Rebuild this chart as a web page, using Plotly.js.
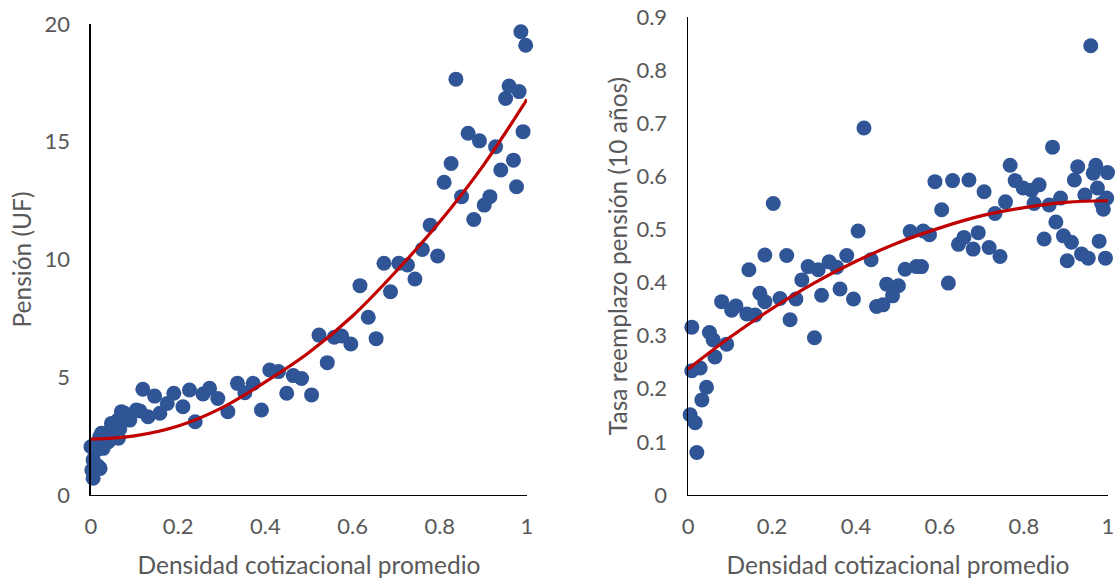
<!DOCTYPE html>
<html>
<head>
<meta charset="utf-8">
<script src="https://cdn.plot.ly/plotly-3.0.1.min.js"></script>
<style>html,body{margin:0;padding:0;background:#fff;}#chart{width:1116px;height:579px;}</style>
</head>
<body>
<div id="chart"></div>
<script>
// Left chart: Pensión (UF) vs densidad cotizacional
const densLeft = [0.000,0.002,0.005,0.005,0.013,0.016,0.021,0.024,0.028,0.020,0.040,0.047,0.051,0.057,0.062,0.063,0.070,0.077,0.080,0.089,0.104,0.112,0.119,0.131,0.146,0.158,0.175,0.190,0.211,0.226,0.239,0.257,0.272,0.291,0.314,0.336,0.353,0.372,0.391,0.410,0.430,0.449,0.464,0.483,0.506,0.523,0.542,0.558,0.575,0.596,0.617,0.636,0.654,0.672,0.687,0.706,0.726,0.743,0.760,0.778,0.795,0.810,0.826,0.837,0.850,0.865,0.878,0.891,0.902,0.915,0.928,0.940,0.951,0.959,0.969,0.976,0.982,0.986,0.991,0.997,0.033,0.043,0.066];
const pension = [2.05,1.06,0.71,1.49,1.91,1.23,1.13,2.62,1.98,2.46,2.26,3.04,2.9,2.5,3.18,2.41,3.54,3.47,3.27,3.18,3.61,3.57,4.49,3.32,4.2,3.47,3.89,4.32,3.75,4.46,3.11,4.29,4.53,4.1,3.54,4.74,4.34,4.74,3.61,5.31,5.24,4.32,5.07,4.95,4.25,6.79,5.62,6.7,6.75,6.41,8.89,7.55,6.64,9.84,8.63,9.84,9.77,9.17,10.43,11.46,10.15,13.28,14.08,17.66,12.67,15.36,11.7,15.04,12.31,12.67,14.79,13.8,16.84,17.37,14.22,13.09,17.13,19.67,15.43,19.1,2.2,2.7,2.8];
// Trend line
const trendX = [0,0.1,0.2,0.3,0.4,0.5,0.6,0.7,0.8,0.9,1.0];
const trendPension = [2.37,2.51,2.93,3.7,4.8,6.05,7.6,9.5,11.6,14.0,16.8];

// Right chart: Tasa reemplazo pensión (10 años)
const densRight = [0.009,0.051,0.060,0.092,0.064,0.009,0.029,0.044,0.033,0.005,0.017,0.021,0.080,0.104,0.114,0.140,0.160,0.171,0.183,0.219,0.243,0.257,0.301,0.318,0.203,0.183,0.235,0.271,0.286,0.310,0.336,0.354,0.362,0.378,0.394,0.405,0.436,0.449,0.464,0.473,0.487,0.501,0.517,0.529,0.544,0.556,0.560,0.575,0.588,0.604,0.620,0.630,0.644,0.657,0.669,0.679,0.691,0.705,0.717,0.731,0.743,0.756,0.767,0.779,0.798,0.818,0.824,0.836,0.848,0.860,0.868,0.876,0.887,0.894,0.903,0.913,0.920,0.928,0.937,0.945,0.953,0.959,0.965,0.971,0.975,0.979,0.985,0.989,0.994,0.997,0.999,0.419,0.145];
const tasa = [0.316,0.306,0.292,0.284,0.260,0.234,0.239,0.203,0.179,0.151,0.136,0.080,0.364,0.348,0.356,0.341,0.339,0.380,0.364,0.370,0.330,0.369,0.296,0.376,0.549,0.452,0.451,0.405,0.430,0.424,0.439,0.429,0.388,0.451,0.369,0.497,0.443,0.355,0.358,0.397,0.375,0.394,0.425,0.496,0.430,0.430,0.497,0.490,0.590,0.537,0.399,0.592,0.472,0.485,0.593,0.463,0.494,0.571,0.466,0.530,0.449,0.552,0.621,0.592,0.578,0.574,0.549,0.584,0.482,0.546,0.655,0.514,0.559,0.488,0.441,0.476,0.593,0.618,0.454,0.565,0.446,0.846,0.606,0.621,0.578,0.478,0.549,0.538,0.446,0.559,0.607,0.691,0.424];
const trendTasa = [0.237,0.297,0.351,0.399,0.440,0.475,0.503,0.526,0.541,0.551,0.554];

const blue = '#2F5597';
const red = '#C00000';
const grey = '#595959';
const fam = 'Lato, "Open Sans", sans-serif';

const traces = [
  {x: densLeft, y: pension, type: 'scatter', mode: 'markers', xaxis: 'x', yaxis: 'y',
   marker: {size: 15, color: blue}, cliponaxis: false, hoverinfo: 'skip'},
  {x: trendX, y: trendPension, type: 'scatter', mode: 'lines', xaxis: 'x', yaxis: 'y',
   line: {color: red, width: 3.2, shape: 'spline'}, hoverinfo: 'skip'},
  {x: densRight, y: tasa, type: 'scatter', mode: 'markers', xaxis: 'x2', yaxis: 'y2',
   marker: {size: 15, color: blue}, cliponaxis: false, hoverinfo: 'skip'},
  {x: trendX, y: trendTasa, type: 'scatter', mode: 'lines', xaxis: 'x2', yaxis: 'y2',
   line: {color: red, width: 3.2, shape: 'spline'}, hoverinfo: 'skip'}
];

const tickSize = 22;
const titleSize = 24.5;

function axisBase() {
  return {
    showline: true, linecolor: '#000', linewidth: 1.5,
    showgrid: false, zeroline: false, ticks: '',
    tickfont: {family: fam, size: tickSize, color: grey}
  };
}

const layout = {
  width: 1116, height: 579,
  margin: {l: 0, r: 0, t: 0, b: 0},
  paper_bgcolor: '#fff', plot_bgcolor: '#fff',
  showlegend: false,
  font: {family: fam, color: grey},
  xaxis: Object.assign(axisBase(), {
    domain: [0.0815, 0.4722], range: [0, 1], dtick: 0.2, anchor: 'y',
    ticklabelstandoff: 11,
    title: {text: 'Densidad cotizacional promedio', font: {family: fam, size: titleSize, color: grey}, standoff: 19}
  }),
  yaxis: Object.assign(axisBase(), {
    domain: [0.1451, 0.9585], range: [0, 20], dtick: 5, anchor: 'x',
    ticklabelstandoff: 15,
    title: {text: 'Pensión (UF)', font: {family: fam, size: titleSize, color: grey}, standoff: 6}
  }),
  xaxis2: Object.assign(axisBase(), {
    domain: [0.6165, 0.9928], range: [0, 1], dtick: 0.2, anchor: 'y2',
    ticklabelstandoff: 11,
    title: {text: 'Densidad cotizacional promedio', font: {family: fam, size: titleSize, color: grey}, standoff: 19}
  }),
  yaxis2: Object.assign(axisBase(), {
    domain: [0.1451, 0.9706], range: [0, 0.9], dtick: 0.1, anchor: 'x2',
    ticklabelstandoff: 15,
    title: {text: 'Tasa reemplazo pensión (10 años)', font: {family: fam, size: titleSize, color: grey}, standoff: 2}
  })
};

Plotly.newPlot('chart', traces, layout, {staticPlot: true, displayModeBar: false});
</script>
</body>
</html>
